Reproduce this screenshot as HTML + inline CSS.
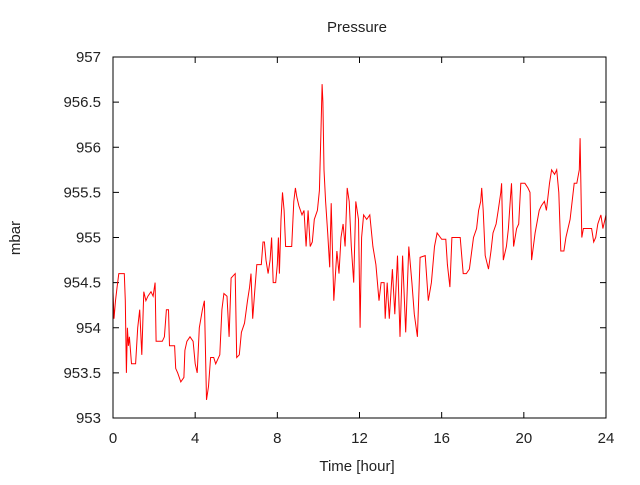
<!DOCTYPE html>
<html><head><meta charset="utf-8"><style>
html,body{margin:0;padding:0;background:#fff}
svg text{font-family:"Liberation Sans","DejaVu Sans",sans-serif;font-size:15px;fill:#222}
</style></head><body>
<svg id="chart" width="640" height="480" xmlns="http://www.w3.org/2000/svg">
<rect width="640" height="480" fill="#fff"/>
<text x="357" y="32" text-anchor="middle">Pressure</text>
<text x="357" y="471" text-anchor="middle">Time [hour]</text>
<text x="20" y="238" text-anchor="middle" transform="rotate(-90 20 238)">mbar</text>
<g id="axes"></g>
<polyline id="series" fill="none" stroke="#ff0000" stroke-width="1"/>
<rect x="113" y="57" width="493" height="361" fill="none" stroke="#000" stroke-width="1"/>
</svg>
<script>
const xTicks=[0,4,8,12,16,20,24];
const yTicks=[953,953.5,954,954.5,955,955.5,956,956.5,957];
const times=[0,0.05,0.12,0.2,0.28,0.55,0.6,0.65,0.7,0.75,0.8,0.9,1.1,1.2,1.3,1.4,1.5,1.6,1.7,1.85,1.95,2.05,2.1,2.4,2.5,2.6,2.7,2.75,3.0,3.05,3.15,3.3,3.45,3.5,3.6,3.75,3.9,4.0,4.1,4.2,4.35,4.45,4.55,4.65,4.75,4.9,5.0,5.2,5.3,5.4,5.55,5.65,5.75,5.95,6.02,6.15,6.25,6.4,6.55,6.65,6.72,6.8,6.9,7.0,7.22,7.3,7.37,7.45,7.55,7.65,7.72,7.8,7.92,8.0,8.05,8.1,8.18,8.25,8.33,8.4,8.7,8.8,8.88,8.95,9.05,9.2,9.3,9.4,9.5,9.6,9.7,9.8,9.95,10.05,10.12,10.18,10.22,10.27,10.35,10.45,10.55,10.62,10.75,10.9,11.0,11.1,11.2,11.3,11.4,11.5,11.6,11.72,11.82,11.95,12.03,12.1,12.2,12.35,12.5,12.65,12.8,12.95,13.05,13.2,13.25,13.35,13.45,13.6,13.72,13.85,13.97,14.1,14.25,14.4,14.55,14.67,14.82,14.95,15.2,15.35,15.5,15.65,15.78,16.0,16.2,16.28,16.4,16.5,16.9,17.05,17.2,17.35,17.55,17.7,17.8,17.9,17.95,18.02,18.12,18.28,18.4,18.5,18.65,18.75,18.88,18.92,19.0,19.15,19.25,19.35,19.4,19.5,19.65,19.75,19.85,20.05,20.2,20.3,20.38,20.55,20.75,20.85,21.0,21.1,21.25,21.35,21.5,21.6,21.7,21.8,21.95,22.05,22.25,22.45,22.58,22.7,22.74,22.82,22.9,23.1,23.3,23.4,23.5,23.6,23.75,23.85,24.0];
const pressure=[954.4,954.1,954.3,954.45,954.6,954.6,954.3,953.5,954.0,953.8,953.9,953.6,953.6,954.0,954.2,953.7,954.4,954.3,954.35,954.4,954.35,954.5,953.85,953.85,953.9,954.2,954.2,953.8,953.8,953.55,953.5,953.4,953.45,953.75,953.85,953.9,953.85,953.6,953.5,954.0,954.2,954.3,953.2,953.35,953.67,953.67,953.6,953.7,954.2,954.38,954.35,953.9,954.55,954.6,953.67,953.7,953.95,954.05,954.3,954.45,954.6,954.1,954.4,954.7,954.7,954.95,954.95,954.75,954.6,954.75,955.0,954.5,954.5,954.7,955.0,954.6,955.2,955.5,955.3,954.9,954.9,955.4,955.55,955.45,955.35,955.25,955.3,954.9,955.3,954.9,954.95,955.2,955.3,955.52,956.15,956.7,956.5,955.75,955.4,955.05,954.67,955.38,954.3,954.85,954.6,955.0,955.15,954.9,955.55,955.4,954.9,954.5,955.4,955.2,954.0,955.0,955.25,955.2,955.25,954.9,954.7,954.3,954.5,954.5,954.1,954.5,954.1,954.65,954.15,954.8,953.9,954.8,953.95,954.9,954.5,954.15,953.9,954.78,954.8,954.3,954.5,954.9,955.05,954.98,954.98,954.7,954.45,955.0,955.0,954.6,954.6,954.65,955.0,955.1,955.3,955.4,955.55,955.3,954.8,954.65,954.85,955.05,955.15,955.3,955.5,955.6,954.75,954.9,955.1,955.45,955.6,954.9,955.1,955.15,955.6,955.6,955.55,955.5,954.75,955.05,955.3,955.35,955.4,955.3,955.6,955.75,955.7,955.75,955.5,954.85,954.85,955.0,955.2,955.6,955.6,955.75,956.1,955.0,955.1,955.1,955.1,954.95,955.0,955.15,955.25,955.1,955.25];
const X0=113,X1=606,Y0=418,Y1=57;
function sx(t){return X0+(t-0)/(24-0)*(X1-X0);}
function sy(v){return Y0-(v-953)/(957-953)*(Y0-Y1);}
const NS="http://www.w3.org/2000/svg";
const axes=document.getElementById('axes');
function mk(tag,attrs){const e=document.createElementNS(NS,tag);for(const k in attrs)e.setAttribute(k,attrs[k]);return e;}
xTicks.forEach(t=>{
  const x=sx(t);
  const l1=mk('line',{x1:x,y1:Y0,x2:x,y2:Y0-6,stroke:'#000'});
  
  
  axes.appendChild(l1);
  const l2=mk('line',{x1:x,y1:Y1,x2:x,y2:Y1+6,stroke:'#000'});
  
  
  axes.appendChild(l2);
  const tx=mk('text',{x:x,y:443,'text-anchor':'middle'});
  tx.textContent=String(t);
  
  
  axes.appendChild(tx);
});
yTicks.forEach(v=>{
  const y=sy(v);
  const l1=mk('line',{x1:X0,y1:y,x2:X0+6,y2:y,stroke:'#000'});
  
  
  axes.appendChild(l1);
  const l2=mk('line',{x1:X1,y1:y,x2:X1-6,y2:y,stroke:'#000'});
  
  
  axes.appendChild(l2);
  const tx=mk('text',{x:101,y:y+5,'text-anchor':'end'});
  tx.textContent=String(v);
  
  
  axes.appendChild(tx);
});
document.getElementById('series').setAttribute('points',times.map((t,i)=>sx(t).toFixed(1)+','+sy(pressure[i]).toFixed(1)).join(' '));
</script>
</body></html>
